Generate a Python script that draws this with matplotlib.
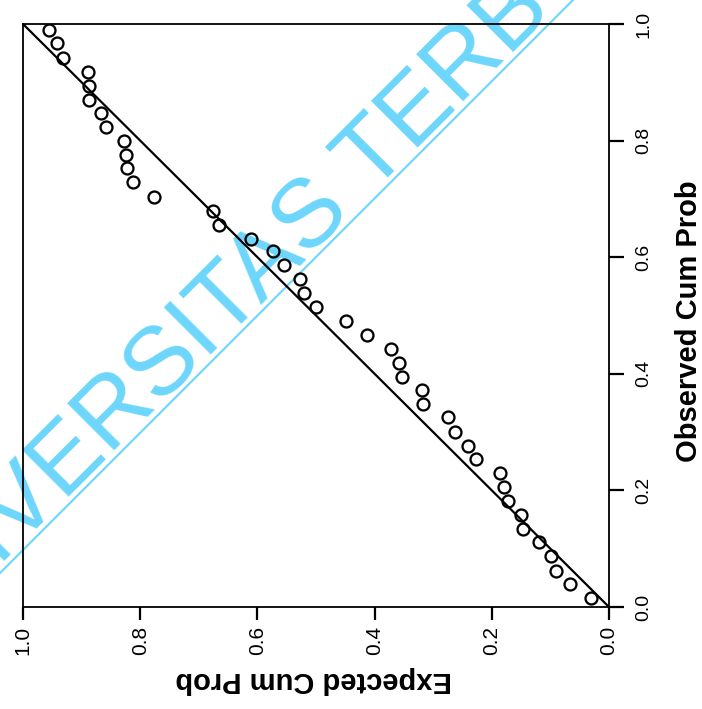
import matplotlib
matplotlib.use('Agg')
import matplotlib.pyplot as plt
from matplotlib.lines import Line2D

# ---- data ----
expected_cum_prob = [0.956, 0.942, 0.932, 0.889, 0.887, 0.887, 0.867, 0.858, 0.828, 0.824,
                     0.823, 0.812, 0.776, 0.676, 0.666, 0.611, 0.573, 0.555, 0.527, 0.520,
                     0.500, 0.449, 0.413, 0.372, 0.358, 0.353, 0.319, 0.317, 0.275, 0.263,
                     0.241, 0.227, 0.186, 0.179, 0.172, 0.150, 0.147, 0.119, 0.099, 0.090,
                     0.067, 0.031]
observed_cum_prob = [0.990, 0.967, 0.942, 0.918, 0.893, 0.869, 0.847, 0.823, 0.799, 0.775,
                     0.753, 0.729, 0.704, 0.679, 0.655, 0.632, 0.610, 0.586, 0.562, 0.538,
                     0.514, 0.490, 0.466, 0.443, 0.419, 0.395, 0.373, 0.349, 0.326, 0.301,
                     0.277, 0.254, 0.230, 0.206, 0.182, 0.158, 0.134, 0.112, 0.088, 0.062,
                     0.040, 0.015]
diagonal = [0.0, 1.0]
tick_values = [0.0, 0.2, 0.4, 0.6, 0.8, 1.0]
tick_labels = ['0.0', '0.2', '0.4', '0.6', '0.8', '1.0']
x_label = 'Expected Cum Prob'
y_label = 'Observed Cum Prob'
watermark = 'UNIVERSITAS TERBUKA'

plt.rcParams['font.family'] = ['Liberation Sans', 'DejaVu Sans']

W, H = 702, 709
fig = plt.figure(figsize=(W / 100, H / 100), dpi=100)

# watermark behind everything
wm_color = '#6ED6FB'
fig.text(-101 / W, 43 / H, watermark, rotation=45, rotation_mode='anchor',
         ha='left', va='baseline', fontsize=70, color=wm_color, zorder=-2)
fig.add_artist(Line2D([0, 1], [136 / H, 838 / H], transform=fig.transFigure,
                      color=wm_color, lw=1.5, zorder=-2))

ax = fig.add_axes([23 / W, 1 - 607 / H, 586 / W, 583 / H])
ax.set_facecolor('none')
ax.plot(diagonal, diagonal, color='black', lw=1.6, zorder=2)
ax.plot(expected_cum_prob, observed_cum_prob, ls='none', marker='o', ms=8.6,
        mfc='none', mec='black', mew=1.65, zorder=3)
ax.set_xlim(1, 0)
ax.set_ylim(0, 1)

ax.set_xticks(tick_values)
ax.set_xticklabels(tick_labels, rotation=90, fontsize=15)
ax.yaxis.tick_right()
ax.set_yticks(tick_values)
ax.set_yticklabels(tick_labels, rotation=90, fontsize=14, va='center')
ax.tick_params(axis='x', direction='out', length=9.5, width=1.6, pad=4.3)
ax.tick_params(axis='y', direction='out', length=10.5, width=1.6, pad=8.5)
for s in ax.spines.values():
    s.set_linewidth(1.3)

fig.text(689 / W, 1 - 321 / H, y_label, rotation=90, ha='center', va='center',
         fontsize=21, fontweight='bold')
fig.text(313.5 / W, 1 - 680.5 / H, x_label, rotation=180, ha='center', va='center',
         fontsize=21, fontweight='bold')

fig.savefig('out.png', dpi=100)
